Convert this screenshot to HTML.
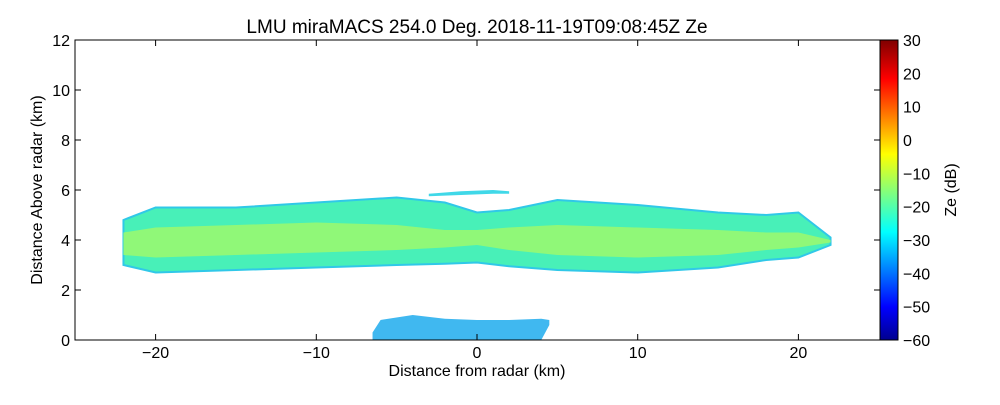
<!DOCTYPE html>
<html><head><meta charset="utf-8"><style>
body{margin:0;background:#fff;width:1000px;height:400px;overflow:hidden;font-family:"Liberation Sans",sans-serif}
</style></head><body>
<svg id="chart" width="1000" height="400" xmlns="http://www.w3.org/2000/svg" font-family="Liberation Sans, sans-serif">
<defs>
<linearGradient id="jet" x1="0" y1="1" x2="0" y2="0">
<stop offset="0" stop-color="#00008f"/><stop offset="0.11" stop-color="#0000ff"/>
<stop offset="0.36" stop-color="#00ffff"/><stop offset="0.62" stop-color="#ffff00"/>
<stop offset="0.87" stop-color="#ff0000"/><stop offset="1" stop-color="#800000"/>
</linearGradient>
</defs>
<text x="477" y="33" font-size="19" text-anchor="middle">LMU miraMACS 254.0 Deg. 2018-11-19T09:08:45Z  Ze</text>
<g id="marks"></g>
<rect x="75" y="40" width="805" height="300" fill="none" stroke="#000" stroke-width="1"/>
<g id="axes"></g>
<text x="477" y="376" font-size="16" text-anchor="middle">Distance from radar (km)</text>
<text transform="translate(42,190) rotate(-90)" font-size="16" text-anchor="middle">Distance Above radar  (km)</text>
<rect x="880" y="40" width="18" height="300" fill="url(#jet)" stroke="#000"/>
<text transform="translate(956,190) rotate(-90)" font-size="16" text-anchor="middle">Ze (dB)</text>
</svg>
<script>
const xTicks=[-20,-10,0,10,20];
const yTicks=[0,2,4,6,8,10,12];
const cbTicks=[-60,-50,-40,-30,-20,-10,0,10,20,30];
const mainX=[-22,-20,-15,-10,-5,-2,0,2,5,10,15,18,20,22];
const mainTop=[4.8,5.3,5.3,5.5,5.7,5.5,5.1,5.2,5.6,5.4,5.1,5.0,5.1,4.1];
const mainBot=[3.0,2.7,2.8,2.9,3.0,3.05,3.1,2.95,2.8,2.7,2.9,3.2,3.3,3.8];
const coreTop=[4.3,4.5,4.6,4.7,4.6,4.4,4.4,4.5,4.6,4.5,4.4,4.3,4.3,4.0];
const coreBot=[3.4,3.3,3.4,3.5,3.6,3.7,3.8,3.6,3.4,3.3,3.4,3.6,3.7,3.9];
const upX=[-3,-1,1,2];
const upTop=[5.85,5.95,6.0,5.95];
const upBot=[5.75,5.8,5.85,5.85];
const lowX=[-6.5,-6,-4,-2,0,2,4,4.5];
const lowTop=[0.3,0.8,1.0,0.85,0.8,0.8,0.85,0.8];
const lowBot=[0,0,0,0,0,0,0,0.6];
const X=v=>477+v*16.07, Y=v=>340-v*25, CB=v=>340-(v+60)/90*300;
const NS="http://www.w3.org/2000/svg";
const marks=document.getElementById('marks'), axes=document.getElementById('axes');
function poly(xs,top,bot,fill,stroke,name){
 const p=document.createElementNS(NS,'polygon');
 const pts=xs.map((x,i)=>X(x)+','+Y(top[i])).concat(xs.map((x,i)=>X(x)+','+Y(bot[i])).reverse());
 p.setAttribute('points',pts.join(' '));p.setAttribute('fill',fill);
 if(stroke){p.setAttribute('stroke',stroke);p.setAttribute('stroke-width','2');}
 
 
 marks.appendChild(p);
}
poly(mainX,mainTop,mainBot,'#48f0b8','#30c8e8','main-cloud-layer');
poly(mainX,coreTop,coreBot,'#90f878',null,'cloud-core');
poly(upX,upTop,upBot,'#40d8e8',null,'upper-cloud-layer');
poly(lowX,lowTop,lowBot,'#40b8f0',null,'low-cloud-layer');
function txt(x,y,s,anchor,name){
 const t=document.createElementNS(NS,'text');
 t.setAttribute('x',x);t.setAttribute('y',y);t.setAttribute('font-size','16');t.setAttribute('text-anchor',anchor);t.textContent=s;
 
 
 axes.appendChild(t);
}
function ln(x1,y1,x2,y2){const l=document.createElementNS(NS,'line');l.setAttribute('x1',x1);l.setAttribute('y1',y1);l.setAttribute('x2',x2);l.setAttribute('y2',y2);l.setAttribute('stroke','#000');axes.appendChild(l);}
xTicks.forEach(v=>{ln(X(v),340,X(v),334);ln(X(v),40,X(v),46);txt(X(v),358,(v<0?'\u2212':'')+Math.abs(v),'middle','x-tick-label');});
yTicks.forEach(v=>{ln(75,Y(v),81,Y(v));ln(880,Y(v),874,Y(v));txt(70,Y(v)+6,String(v),'end','y-tick-label');});
cbTicks.forEach(v=>{ln(892,CB(v),898,CB(v));txt(903,CB(v)+6,(v<0?'\u2212':'')+Math.abs(v),'start','colorbar-tick-label');});
</script>
</body></html>
